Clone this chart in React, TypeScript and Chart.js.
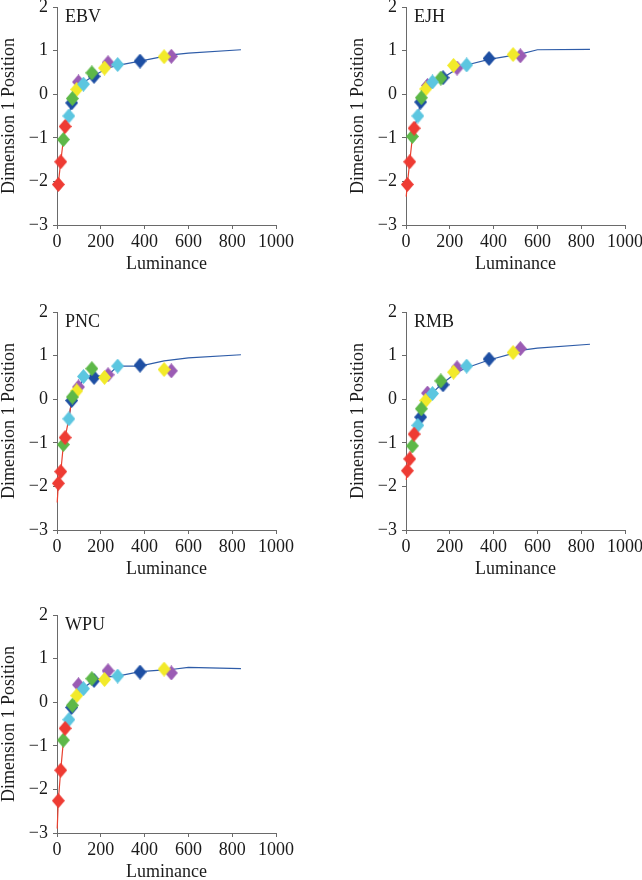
import { useEffect, useRef } from "react";
import { Chart, registerables } from "chart.js";

Chart.register(...registerables);

// Series order: red, green, cyan, dark blue, yellow, purple
const SERIES_COLORS = ["#EE3B33", "#5DB848", "#5CC6E0", "#1E4FA3", "#F2EA2A", "#9B5CB4"];
const LUM_RED = [6, 17, 37];
const LUM_GREEN = [29, 70, 159];
const LUM_CYAN = [54, 121, 277];
const LUM_BLUE = [67, 169, 379];
const LUM_YELLOW = [90, 217, 489];
const LUM_PURPLE = [98, 233, 522];
const LUMS = [LUM_RED, LUM_GREEN, LUM_CYAN, LUM_BLUE, LUM_YELLOW, LUM_PURPLE];
// drawing order, first = on top
const DRAW_ORDER = [0, 2, 1, 4, 5, 3];

const X_TICKS = [0, 200, 400, 600, 800, 1000];
const Y_TICKS = [-3, -2, -1, 0, 1, 2];

const EBV_VALUES = [
  [-2.07, -1.55, -0.74],
  [-1.04, -0.1, 0.49],
  [-0.5, 0.23, 0.68],
  [-0.2, 0.41, 0.76],
  [0.11, 0.6, 0.86],
  [0.28, 0.72, 0.87],
];
const EBV_RED_X = [2, 6, 17, 29, 37];
const EBV_RED_Y = [-2.2, -2.05, -1.55, -1.05, -0.75];
const EBV_BLUE_X = [37, 54, 70, 98, 121, 169, 233, 277, 379, 522, 600, 840];
const EBV_BLUE_Y = [-0.75, -0.48, -0.15, 0.15, 0.27, 0.43, 0.6, 0.66, 0.76, 0.9, 0.94, 1.02];

const EJH_VALUES = [
  [-2.07, -1.55, -0.78],
  [-0.97, -0.08, 0.37],
  [-0.5, 0.28, 0.67],
  [-0.18, 0.38, 0.82],
  [0.12, 0.66, 0.91],
  [0.2, 0.6, 0.88],
];
const EJH_RED_X = [1, 6, 17, 29, 37];
const EJH_RED_Y = [-2.35, -2.07, -1.55, -1.0, -0.78];
const EJH_BLUE_X = [37, 54, 67, 98, 121, 169, 233, 277, 379, 522, 600, 840];
const EJH_BLUE_Y = [-0.78, -0.5, -0.15, 0.15, 0.27, 0.38, 0.58, 0.67, 0.8, 0.92, 1.02, 1.03];

const PNC_VALUES = [
  [-1.93, -1.66, -0.88],
  [-1.04, 0.05, 0.7],
  [-0.45, 0.52, 0.76],
  [-0.03, 0.5, 0.78],
  [0.19, 0.5, 0.68],
  [0.28, 0.56, 0.65],
];
const PNC_RED_X = [1, 6, 17, 29, 37, 54, 67];
const PNC_RED_Y = [-2.37, -1.95, -1.68, -1.05, -0.88, -0.45, -0.02];
const PNC_BLUE_X = [54, 67, 98, 121, 169, 233, 277, 379, 489, 600, 840];
const PNC_BLUE_Y = [-0.45, -0.03, 0.22, 0.5, 0.52, 0.55, 0.76, 0.76, 0.88, 0.95, 1.02];

const RMB_VALUES = [
  [-1.64, -1.37, -0.8],
  [-1.07, -0.22, 0.42],
  [-0.6, 0.13, 0.76],
  [-0.41, 0.33, 0.92],
  [-0.03, 0.62, 1.07],
  [0.14, 0.72, 1.16],
];
const RMB_RED_X = [1, 6, 17, 29, 37];
const RMB_RED_Y = [-1.85, -1.64, -1.37, -1.05, -0.8];
const RMB_BLUE_X = [37, 54, 67, 98, 121, 169, 233, 277, 379, 489, 522, 600, 840];
const RMB_BLUE_Y = [-0.8, -0.6, -0.38, 0.0, 0.15, 0.37, 0.62, 0.72, 0.9, 1.05, 1.12, 1.17, 1.26];

const WPU_VALUES = [
  [-2.26, -1.56, -0.6],
  [-0.87, -0.07, 0.54],
  [-0.4, 0.31, 0.6],
  [-0.12, 0.5, 0.69],
  [0.15, 0.52, 0.76],
  [0.4, 0.72, 0.67],
];
const WPU_RED_X = [1, 6, 17, 29, 37];
const WPU_RED_Y = [-2.9, -2.26, -1.56, -0.9, -0.6];
const WPU_BLUE_X = [37, 54, 67, 98, 121, 169, 233, 277, 379, 489, 522, 600, 840];
const WPU_BLUE_Y = [-0.6, -0.38, -0.1, 0.2, 0.33, 0.5, 0.58, 0.6, 0.7, 0.74, 0.75, 0.8, 0.77];

const RED_LINE_COLOR = "#E8402F";
const BLUE_LINE_COLOR = "#2E5CA8";
const AXIS_COLOR = "#6a6a6a";
const TEXT_COLOR = "#1a1a1a";
const FONT_FAMILY = "'Liberation Serif', 'Times New Roman', serif";

function makeDiamond(color: string): HTMLCanvasElement {
  const w = 13;
  const h = 15;
  const c = document.createElement("canvas");
  c.width = w;
  c.height = h;
  const g = c.getContext("2d")!;
  g.fillStyle = color;
  g.beginPath();
  g.moveTo(w / 2, 0);
  g.lineTo(w, h / 2);
  g.lineTo(w / 2, h);
  g.lineTo(0, h / 2);
  g.closePath();
  g.fill();
  return c;
}

type PanelProps = {
  name: string;
  values: number[][];
  redX: number[];
  redY: number[];
  blueX: number[];
  blueY: number[];
  left: number;
  top: number;
};

function Panel({ name, values, redX, redY, blueX, blueY, left, top }: PanelProps) {
  const ref = useRef<HTMLCanvasElement>(null);
  useEffect(() => {
    if (!ref.current) return;
    const datasets: any[] = [];
    DRAW_ORDER.forEach((i) => {
      datasets.push({
        data: LUMS[i].map((x, j) => ({ x, y: values[i][j] })),
        pointStyle: makeDiamond(SERIES_COLORS[i]),
        pointRadius: 7,
        backgroundColor: SERIES_COLORS[i],
        borderColor: SERIES_COLORS[i],
        borderWidth: 0,
        showLine: false,
        clip: false,
      });
    });
    datasets.push({
      data: redX.map((x, j) => ({ x, y: redY[j] })),
      showLine: true,
      pointRadius: 0,
      borderColor: RED_LINE_COLOR,
      borderWidth: 1.2,
      fill: false,
      clip: false,
    });
    datasets.push({
      data: blueX.map((x, j) => ({ x, y: blueY[j] })),
      showLine: true,
      pointRadius: 0,
      borderColor: BLUE_LINE_COLOR,
      borderWidth: 1.2,
      fill: false,
      clip: false,
    });

    const titlePlugin = {
      id: "panelTitle",
      afterDraw(chart: any) {
        const { ctx, chartArea } = chart;
        ctx.save();
        ctx.font = `18px ${FONT_FAMILY}`;
        ctx.fillStyle = TEXT_COLOR;
        ctx.textBaseline = "alphabetic";
        ctx.textAlign = "left";
        ctx.fillText(name, chartArea.left + 8, chartArea.top + 14.5);
        ctx.restore();
      },
    };

    const tickFont = { family: FONT_FAMILY, size: 18 };
    const chart = new Chart(ref.current, {
      type: "scatter",
      data: { datasets },
      options: {
        animation: false,
        responsive: false,
        events: [],
        layout: { padding: { top: 22, right: 24, bottom: 10, left: 0 } },
        plugins: { legend: { display: false }, tooltip: { enabled: false } },
        scales: {
          x: {
            type: "linear",
            min: 0,
            max: 1000,
            afterBuildTicks: (axis: any) => {
              axis.ticks = X_TICKS.map((v) => ({ value: v }));
            },
            afterFit: (axis: any) => {
              axis.height = 50;
            },
            ticks: {
              font: tickFont,
              color: TEXT_COLOR,
              padding: 2,
              maxRotation: 0,
              callback: (v: any) => String(v),
            },
            grid: { display: true, drawOnChartArea: false, drawTicks: true, tickLength: 4, color: AXIS_COLOR },
            border: { display: true, color: AXIS_COLOR, width: 1 },
            title: { display: true, text: "Luminance", font: tickFont, color: TEXT_COLOR, padding: { top: 0, bottom: 0 } },
          },
          y: {
            type: "linear",
            min: -3,
            max: 2,
            afterBuildTicks: (axis: any) => {
              axis.ticks = Y_TICKS.map((v) => ({ value: v }));
            },
            afterFit: (axis: any) => {
              axis.width = 57;
            },
            ticks: {
              font: tickFont,
              color: TEXT_COLOR,
              padding: 5,
              callback: (v: any) => (Number(v) < 0 ? "\u2212" + Math.abs(Number(v)) : String(v)),
            },
            grid: { display: true, drawOnChartArea: false, drawTicks: true, tickLength: 4, color: AXIS_COLOR },
            border: { display: true, color: AXIS_COLOR, width: 1 },
            title: { display: true, text: "Dimension 1 Position", font: tickFont, color: TEXT_COLOR, padding: { top: -2, bottom: 0 } },
          },
        },
      } as any,
      plugins: [titlePlugin],
    });
    return () => chart.destroy();
  }, []);
  return (
    <canvas
      ref={ref}
      width={300}
      height={300}
      style={{ position: "absolute", left, top, width: 300, height: 300 }}
    />
  );
}

export default function App() {
  return (
    <div
      style={{
        position: "absolute",
        left: 0,
        top: 0,
        width: 642,
        height: 880,
        overflow: "hidden",
        background: "#ffffff",
      }}
    >
      <Panel name="EBV" values={EBV_VALUES} redX={EBV_RED_X} redY={EBV_RED_Y} blueX={EBV_BLUE_X} blueY={EBV_BLUE_Y} left={0} top={-15} />
      <Panel name="EJH" values={EJH_VALUES} redX={EJH_RED_X} redY={EJH_RED_Y} blueX={EJH_BLUE_X} blueY={EJH_BLUE_Y} left={349} top={-15} />
      <Panel name="PNC" values={PNC_VALUES} redX={PNC_RED_X} redY={PNC_RED_Y} blueX={PNC_BLUE_X} blueY={PNC_BLUE_Y} left={0} top={290} />
      <Panel name="RMB" values={RMB_VALUES} redX={RMB_RED_X} redY={RMB_RED_Y} blueX={RMB_BLUE_X} blueY={RMB_BLUE_Y} left={349} top={290} />
      <Panel name="WPU" values={WPU_VALUES} redX={WPU_RED_X} redY={WPU_RED_Y} blueX={WPU_BLUE_X} blueY={WPU_BLUE_Y} left={0} top={593} />
    </div>
  );
}
